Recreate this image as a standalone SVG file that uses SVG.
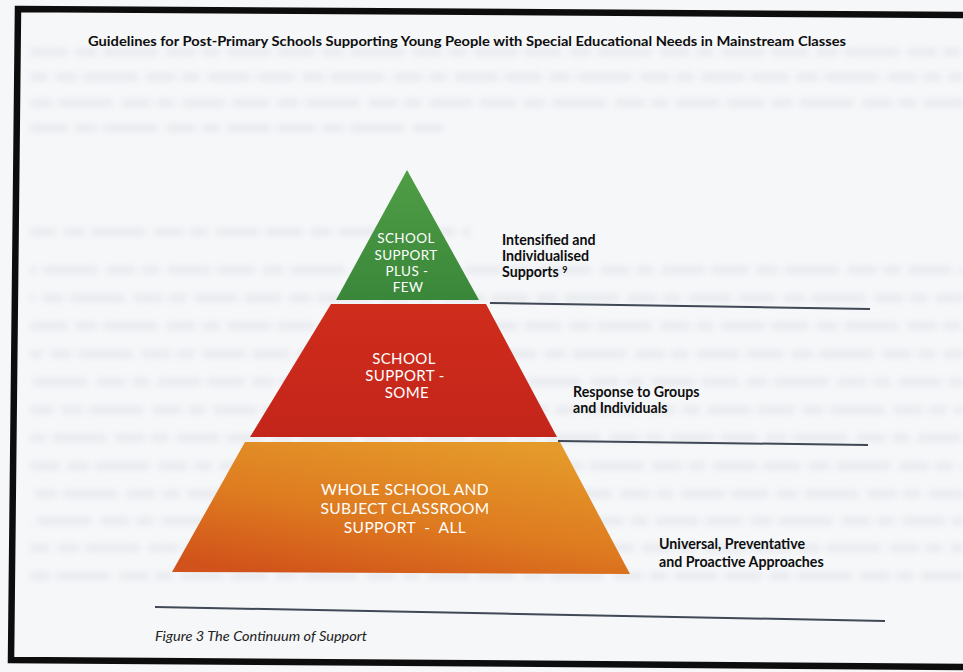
<svg xmlns="http://www.w3.org/2000/svg" width="963" height="672" viewBox="0 0 963 672">
  <defs>
    <linearGradient id="gGreen" x1="0" y1="0" x2="0" y2="1">
      <stop offset="0" stop-color="#4f9e45"/>
      <stop offset="1" stop-color="#3a873a"/>
    </linearGradient>
    <linearGradient id="gRed" x1="0" y1="0" x2="0" y2="1">
      <stop offset="0" stop-color="#cf2d1c"/>
      <stop offset="1" stop-color="#c4251a"/>
    </linearGradient>
    <linearGradient id="gOrange" x1="0.75" y1="0" x2="0.2" y2="1">
      <stop offset="0" stop-color="#e59b2b"/>
      <stop offset="0.55" stop-color="#de7b20"/>
      <stop offset="1" stop-color="#d1521a"/>
    </linearGradient>
    <filter id="soft" x="-5%" y="-10%" width="110%" height="120%">
      <feGaussianBlur stdDeviation="3"/>
    </filter>
    <filter id="lineSoft" x="-2%" y="-200%" width="104%" height="500%">
      <feGaussianBlur stdDeviation="0.5"/>
    </filter>
  </defs>
  <style>
    .ghost { fill: none; stroke: #cfd5dd; stroke-width: 8; stroke-dasharray: 38 7 22 6 55 8 30 6 18 7 44 6; }
    .tier-label { font-family: Lato, "Open Sans", "Liberation Sans", sans-serif; font-size: 15px; fill: #ffffff; text-anchor: middle; letter-spacing: 0.4px; }
    .side-label { font-family: Lato, "Open Sans", "Liberation Sans", sans-serif; font-size: 14.2px; font-weight: bold; fill: #0e0e0e; }
    .rule { fill: none; stroke: #3f4854; stroke-width: 2; }
    .title { font-family: Lato, "Open Sans", "Liberation Sans", sans-serif; font-size: 13px; font-weight: bold; fill: #0e0e0e; }
    .caption { font-family: Lato, "Open Sans", "Liberation Sans", sans-serif; font-size: 13.5px; font-style: italic; fill: #222222; }
  </style>

  <!-- paper -->
  <rect x="0" y="0" width="963" height="672" fill="#f6f7f9"/>

  <!-- faint print from the reverse side of the sheet -->
  <g id="show-through" filter="url(#soft)" opacity="0.35">
    <path class="ghost" d="M30 52 H963"/>
    <path class="ghost" d="M30 77 H963" style="stroke-dashoffset:20"/>
    <path class="ghost" d="M30 103 H963" style="stroke-dashoffset:45"/>
    <path class="ghost" d="M30 128 H450"/>
    <path class="ghost" d="M30 232 H470" style="stroke-dashoffset:12"/>
    <path class="ghost" d="M30 270 H963" style="stroke-dashoffset:60"/>
    <path class="ghost" d="M30 298 H963" style="stroke-dashoffset:33"/>
    <path class="ghost" d="M30 326 H963"/>
    <path class="ghost" d="M30 354 H963" style="stroke-dashoffset:25"/>
    <path class="ghost" d="M30 382 H963" style="stroke-dashoffset:70"/>
    <path class="ghost" d="M30 410 H963" style="stroke-dashoffset:14"/>
    <path class="ghost" d="M30 438 H963" style="stroke-dashoffset:51"/>
    <path class="ghost" d="M30 466 H963" style="stroke-dashoffset:8"/>
    <path class="ghost" d="M30 494 H963" style="stroke-dashoffset:40"/>
    <path class="ghost" d="M30 521 H963" style="stroke-dashoffset:66"/>
    <path class="ghost" d="M30 548 H963" style="stroke-dashoffset:18"/>
    <path class="ghost" d="M30 576 H963" style="stroke-dashoffset:47"/>
  </g>

  <!-- figure frame (right side runs off the sheet) -->
  <polygon id="frame" points="18,9 975,15 975,667 11,660" fill="none" stroke="#0d0d0d" stroke-width="6.5" stroke-linejoin="miter"/>

  <!-- heading -->
  <text class="title" x="88" y="46" textLength="758" lengthAdjust="spacingAndGlyphs">Guidelines for Post-Primary Schools Supporting Young People with Special Educational Needs in Mainstream Classes</text>

  <!-- pyramid tiers -->
  <g id="tier-few">
    <polygon points="407,170 479,300 336,300" fill="url(#gGreen)"/>
    <text class="tier-label" x="406" y="243" style="font-size:13.5px">SCHOOL</text>
    <text class="tier-label" x="406" y="260" style="font-size:13.5px">SUPPORT</text>
    <text class="tier-label" x="407" y="276" style="font-size:13.5px">PLUS -</text>
    <text class="tier-label" x="408" y="292" style="font-size:13.5px">FEW</text>
  </g>
  <g id="tier-some">
    <polygon points="331,304 486,304 557,437 250,437" fill="url(#gRed)"/>
    <text class="tier-label" x="404" y="364">SCHOOL</text>
    <text class="tier-label" x="405" y="381">SUPPORT -</text>
    <text class="tier-label" x="407" y="398">SOME</text>
  </g>
  <g id="tier-all">
    <polygon points="245,442 560,442 630,574 172,572" fill="url(#gOrange)"/>
    <text class="tier-label" x="405" y="495" style="font-size:15.5px">WHOLE SCHOOL AND</text>
    <text class="tier-label" x="405" y="514" style="font-size:15.5px">SUBJECT CLASSROOM</text>
    <text class="tier-label" x="405" y="533" style="font-size:15.5px" xml:space="preserve">SUPPORT  -  ALL</text>
  </g>

  <!-- tier descriptions -->
  <g id="label-few">
    <text class="side-label" x="502" y="245">Intensified and</text>
    <text class="side-label" x="502" y="261">Individualised</text>
    <text class="side-label" x="502" y="277">Supports <tspan font-size="9" dy="-4">9</tspan></text>
  </g>
  <g id="label-some">
    <text class="side-label" x="573" y="397">Response to Groups</text>
    <text class="side-label" x="573" y="413">and Individuals</text>
  </g>
  <g id="label-all">
    <text class="side-label" x="659" y="549">Universal, Preventative</text>
    <text class="side-label" x="659" y="567">and Proactive Approaches</text>
  </g>

  <!-- divider rules -->
  <g id="connectors" filter="url(#lineSoft)">
    <path class="rule" d="M490 303 L870 309"/>
    <path class="rule" d="M558 441 L868 445"/>
    <path class="rule" d="M155 607 L885 621"/>
  </g>

  <!-- caption -->
  <text class="caption" x="155" y="641" textLength="212" lengthAdjust="spacingAndGlyphs">Figure 3 The Continuum of Support</text>
</svg>
